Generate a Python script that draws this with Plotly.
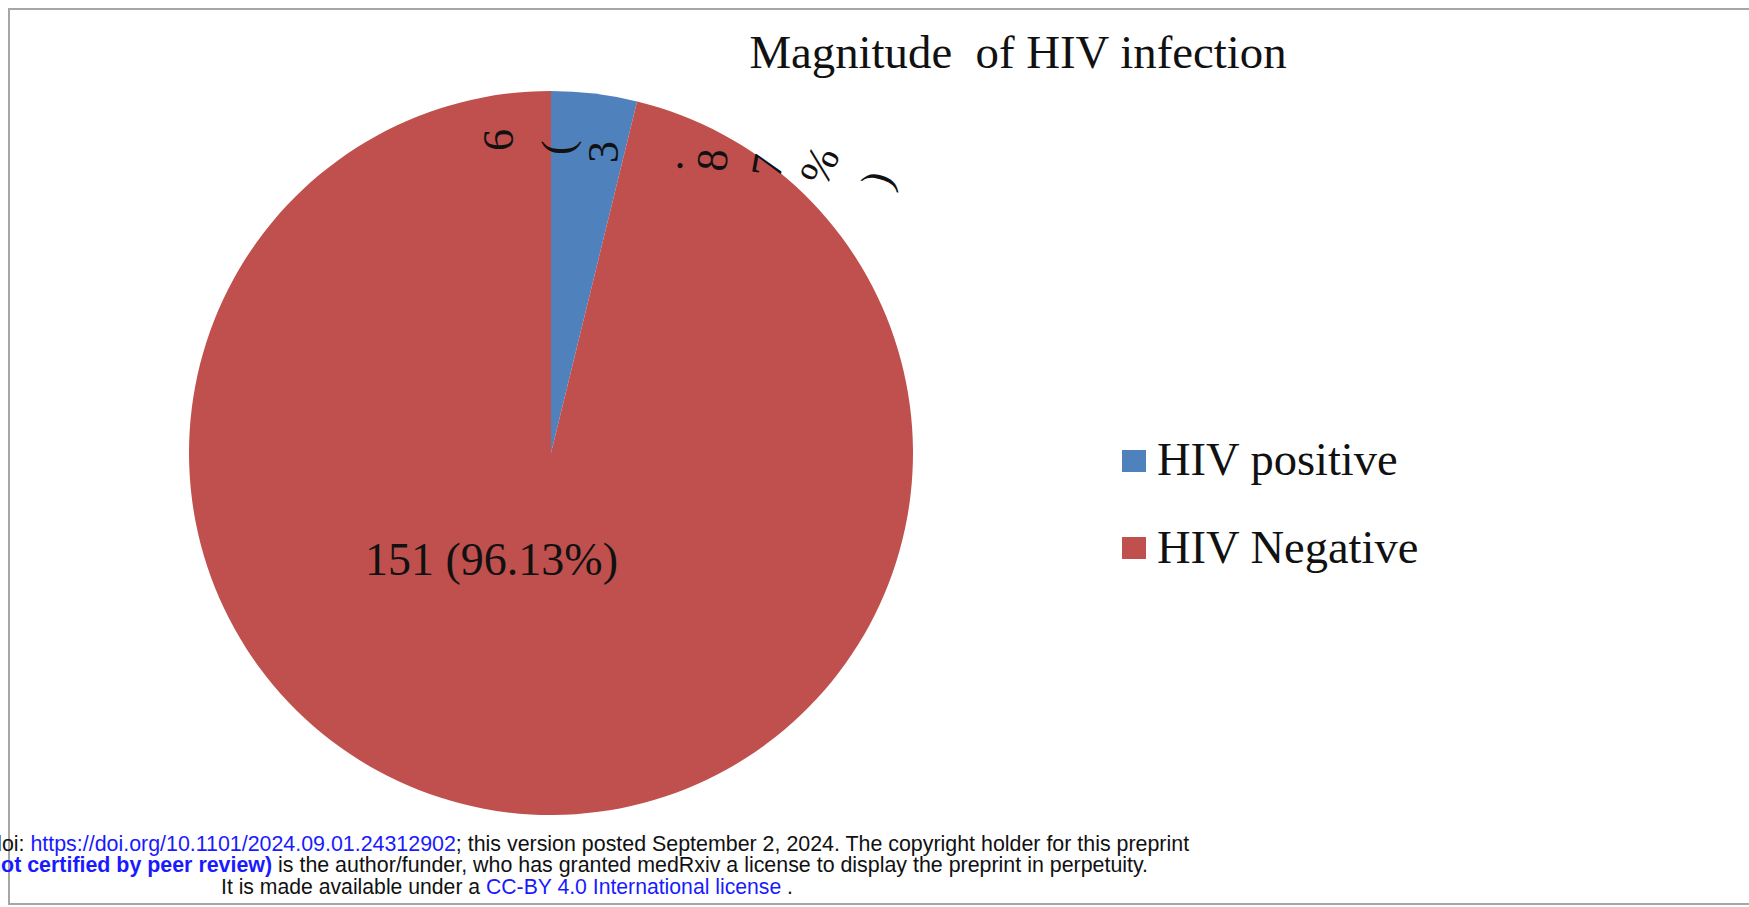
import plotly.graph_objects as go

# ---------------- data ----------------
categories = ["HIV positive", "HIV Negative"]
counts = [6, 151]
label_texts = ["6 (3.87%)", "151 (96.13%)"]
colors = ["#4F81BD", "#C0504D"]
title_text = "Magnitude  of HIV infection"

footer_lines = [
    'doi: <span style="color:#1a1aff">https://doi.org/10.1101/2024.09.01.24312902</span>; this version posted September 2, 2024. The copyright holder for this preprint',
    '<b><span style="color:#1a1aff">not certified by peer review)</span></b> is the author/funder, who has granted medRxiv a license to display the preprint in perpetuity.',
    'It is made available under a <span style="color:#1a1aff">CC-BY 4.0 International license</span> .',
]

# ---------------- layout helpers ----------------
W, H = 1749, 907
def px(x):
    return x / W
def py(y):
    return 1 - y / H

SERIF = "Liberation Serif, Times New Roman, serif"
SANS = "Liberation Sans, Arial, sans-serif"

cx, cy, r = 551, 453, 362

fig = go.Figure()
fig.add_trace(go.Pie(
    labels=categories,
    values=counts,
    sort=False,
    direction="clockwise",
    rotation=0,
    marker=dict(colors=colors, line=dict(width=0)),
    textinfo="none",
    hoverinfo="label+value+percent",
    showlegend=False,
    domain=dict(x=[px(cx - r), px(cx + r)], y=[py(cy + r), py(cy - r)]),
))

annotations = []

# Small-slice label, drawn char by char (rotated), as in the original
small_chars = [c for c in label_texts[0] if c != " "]
char_pos = [(498, 140), (557, 148), (603, 152), (667, 165), (712, 160),
            (768, 166), (820, 166), (877, 180)]
char_ang = [-90, -90, -90, -85, -85, -80, -66, -72]
for ch, (x, y), a in zip(small_chars, char_pos, char_ang):
    annotations.append(dict(
        text=ch, x=px(x), y=py(y), xref="paper", yref="paper",
        xanchor="center", yanchor="middle", showarrow=False,
        textangle=a, font=dict(family=SERIF, size=44, color="#111111")))

# Large-slice label
annotations.append(dict(
    text=label_texts[1], x=px(491), y=py(559), xref="paper", yref="paper",
    xanchor="center", yanchor="middle", showarrow=False,
    font=dict(family=SERIF, size=46, color="#111111")))

# Manual legend (large square keys)
shapes = []
leg_rows = [461, 548]
for name, col, yy in zip(categories, colors, leg_rows):
    shapes.append(dict(type="rect", xref="paper", yref="paper",
                       x0=px(1122), x1=px(1146), y0=py(yy - 11), y1=py(yy + 11),
                       fillcolor=col, line=dict(width=0)))
    annotations.append(dict(
        text=name, x=px(1155), y=py(yy - 1), xref="paper", yref="paper",
        xanchor="left", yanchor="middle", showarrow=False,
        font=dict(family=SERIF, size=46.5, color="#111111")))

# Footer (medRxiv notice)
FS = 21.4
annotations.append(dict(text=footer_lines[0], x=px(1191), y=py(844), xref="paper", yref="paper",
                        xanchor="right", yanchor="middle", showarrow=False,
                        font=dict(family=SANS, size=FS, color="#111111")))
annotations.append(dict(text=footer_lines[1], x=px(1150), y=py(865), xref="paper", yref="paper",
                        xanchor="right", yanchor="middle", showarrow=False,
                        font=dict(family=SANS, size=FS, color="#111111")))
annotations.append(dict(text=footer_lines[2], x=px(219), y=py(886), xref="paper", yref="paper",
                        xanchor="left", yanchor="middle", showarrow=False,
                        font=dict(family=SANS, size=21.2, color="#111111")))

# Frame
shapes.append(dict(type="rect", xref="paper", yref="paper",
                   x0=px(9), x1=px(1760), y0=py(904), y1=py(9),
                   line=dict(color="#a6a6a6", width=2), fillcolor="rgba(0,0,0,0)", layer="below"))

fig.update_layout(
    width=W, height=H,
    margin=dict(l=0, r=0, t=0, b=0),
    paper_bgcolor="white",
    plot_bgcolor="white",
    title=dict(text=title_text, x=px(1018), y=py(52), xanchor="center", yanchor="middle",
               xref="paper", yref="paper",
               font=dict(family=SERIF, size=46.8, color="#111111")),
    annotations=annotations,
    shapes=shapes,
)

fig.write_html("out.html", config={"displayModeBar": False},
               post_script="document.body.style.margin='0';document.body.style.overflow='hidden';")
